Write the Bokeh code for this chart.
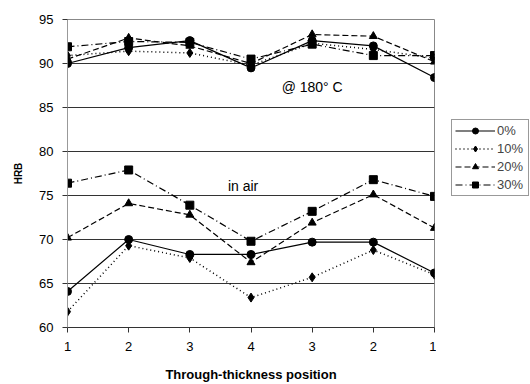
from bokeh.plotting import figure
from bokeh.models import Legend, LegendItem, Label, FixedTicker, Range1d
from bokeh.layouts import row
from bokeh.embed import file_html
from bokeh.resources import INLINE

positions = [1, 2, 3, 4, 5, 6, 7]
tick_labels = ["1", "2", "3", "4", "3", "2", "1"]

series_names = ["0%", "10%", "20%", "30%"]

hot_0 = [90.0, 91.8, 92.6, 89.5, 92.6, 92.0, 88.4]
hot_10 = [90.9, 91.4, 91.2, 89.8, 92.3, 91.6, 90.6]
hot_20 = [90.5, 92.9, 92.0, 90.0, 93.3, 93.1, 90.2]
hot_30 = [91.9, 92.5, 92.4, 90.5, 92.2, 90.9, 90.9]

air_0 = [64.1, 70.0, 68.3, 68.3, 69.7, 69.7, 66.2]
air_10 = [61.8, 69.3, 67.9, 63.4, 65.7, 68.8, 66.0]
air_20 = [70.2, 74.1, 72.8, 67.4, 71.9, 75.1, 71.3]
air_30 = [76.4, 77.9, 73.9, 69.8, 73.2, 76.8, 74.9]

FONT = "Liberation Sans"

p = figure(width=436, height=384, output_backend="svg", toolbar_location=None,
           x_range=Range1d(1, 7), y_range=Range1d(60, 95),
           min_border_left=67, min_border_right=2, min_border_top=19, min_border_bottom=56)
p.outline_line_color = "#888888"
p.outline_line_width = 1
p.background_fill_color = "white"
p.border_fill_color = "white"

p.xgrid.visible = False
p.ygrid.grid_line_color = "#333333"
p.ygrid.grid_line_width = 1
p.yaxis.ticker = FixedTicker(ticks=[60, 65, 70, 75, 80, 85, 90, 95])
p.xaxis.ticker = FixedTicker(ticks=positions)
p.xaxis.major_label_overrides = {pos: lab for pos, lab in zip(positions, tick_labels)}

for ax in (p.xaxis[0], p.yaxis[0]):
    ax.minor_tick_line_color = None
    ax.major_label_text_font = FONT
    ax.major_label_text_font_size = "13px"
    ax.major_label_text_color = "black"
    ax.axis_label_text_font = FONT
    ax.axis_label_text_font_style = "bold"
    ax.axis_label_text_color = "black"
    ax.major_tick_in = 0
    ax.major_tick_out = 5

p.xaxis.axis_line_color = "#333333"
p.xaxis.major_tick_line_color = "#333333"
p.yaxis.axis_line_color = "#999999"
p.yaxis.major_tick_line_color = "#333333"
p.xaxis.major_label_standoff = 9
p.yaxis.major_label_standoff = 9
p.xaxis.axis_label = "Through-thickness position"
p.xaxis.axis_label_text_font_size = "13px"
p.xaxis.axis_label_standoff = 13
p.yaxis.axis_label = "HRB"
p.yaxis.axis_label_text_font_size = "10px"
p.yaxis.axis_label_standoff = 12

dashes = ["solid", "1 3", "6 3", "7 3 1 3"]
markers = ["circle", "diamond", "triangle", "square"]
msizes = [8, 9, 8, 8]
widths = [1.2, 1.5, 1.2, 1.2]

hot = [hot_0, hot_10, hot_20, hot_30]
air = [air_0, air_10, air_20, air_30]

for i, name in enumerate(series_names):
    for ys in (hot[i], air[i]):
        p.line(positions, ys, line_color="black", line_width=widths[i], line_dash=dashes[i])
        p.scatter(positions, ys, marker=markers[i], size=msizes[i],
                  fill_color="black", line_color="black")

p.add_layout(Label(x=5, y=87.3, text="@ 180\u00b0 C", text_font=FONT, text_font_size="14px",
                   text_align="center", text_baseline="middle", text_color="black"))
p.add_layout(Label(x=3.87, y=76.1, text="in air", text_font=FONT, text_font_size="14px",
                   text_align="center", text_baseline="middle", text_color="black"))

# legend panel (its renderers hold the same series but lie outside its view range)
q = figure(width=94, height=384, output_backend="svg", toolbar_location=None,
           x_range=Range1d(100, 101), y_range=Range1d(0, 1),
           min_border_left=0, min_border_right=0, min_border_top=0, min_border_bottom=0)
q.axis.visible = False
q.grid.visible = False
q.outline_line_color = None
q.background_fill_color = "white"
q.border_fill_color = "white"

items = []
for i, name in enumerate(series_names):
    l = q.line(positions, hot[i], line_color="black", line_width=widths[i], line_dash=dashes[i])
    s = q.scatter(positions, hot[i], marker=markers[i], size=msizes[i],
                  fill_color="black", line_color="black")
    items.append(LegendItem(label=name, renderers=[l, s]))

legend = Legend(items=items, location=(15, 131), glyph_width=40, glyph_height=15,
                label_text_font=FONT, label_text_font_size="13px", label_text_align="left",
                label_width=28, label_standoff=2, spacing=3, padding=3, margin=0,
                border_line_color="#333333", border_line_width=1,
                background_fill_alpha=1)
q.add_layout(legend, "center")

layout = row(p, q, spacing=0)
open("out.html", "w").write(file_html(layout, INLINE))
